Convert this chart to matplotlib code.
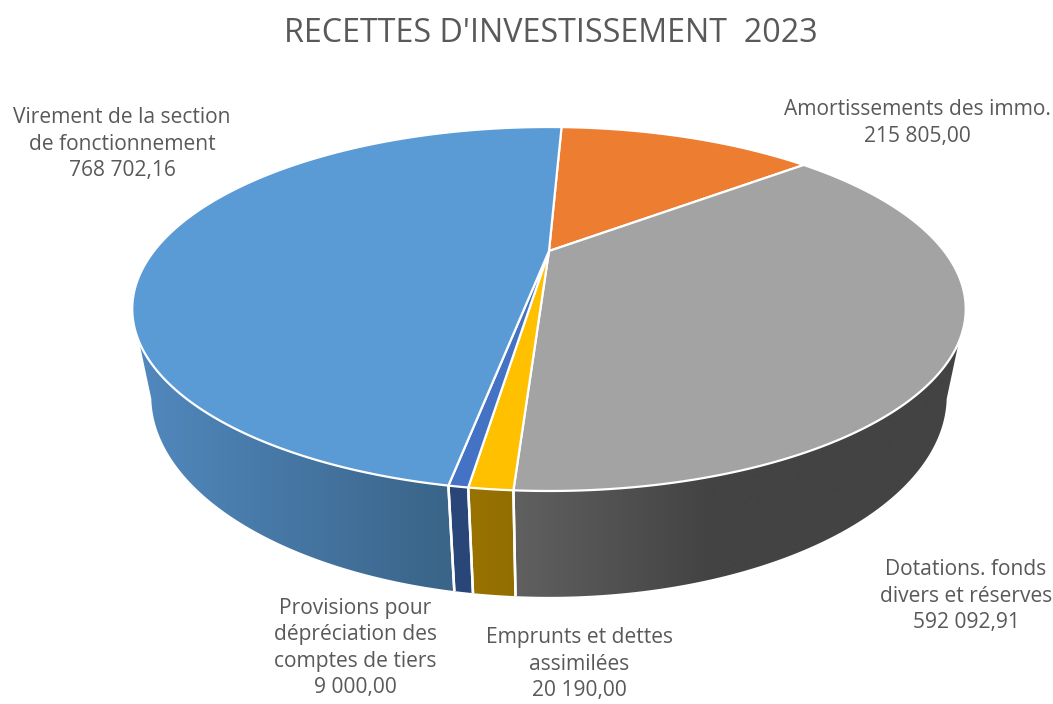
import numpy as np
import matplotlib
matplotlib.use("Agg")
import matplotlib.pyplot as plt
from matplotlib.patches import Polygon
from matplotlib.colors import to_rgb

# ---- data ----
title = "RECETTES D'INVESTISSEMENT  2023"
names = ["Amortissements des immo.", "Dotations. fonds\ndivers et réserves",
         "Emprunts et dettes\nassimilées",
         "Provisions pour\ndépréciation des\ncomptes de tiers",
         "Virement de la section\nde fonctionnement"]
values = [215805.00, 592092.91, 20190.00, 9000.00, 768702.16]
value_labels = ["215 805,00", "592 092,91", "20 190,00", "9 000,00", "768 702,16"]

# ---- styles ----
top_colors = ["#ED7D31", "#A3A3A3", "#FFC000", "#4472C4", "#5B9BD5"]
# side gradient: (x at left, colour, x at right, colour)
side_grad = [(0, "#B0581F", 1, "#B0581F"),
             (515, "#606060", 710, "#434343"),
             (470, "#997300", 515, "#926E00"),
             (450, "#2A4679", 472, "#2A4679"),
             (150, "#5087BC", 450, "#3A6488")]
label_pos = [(917, 123), (966, 596), (579, 664), (355, 648), (122, 144)]
CX, CY, A, B, P = 549.0, 251.0, 395.0, 163.5, -0.3187
H, Q = 87.0, 0.043
START = 2.4
SIL_L, SIL_R = 108.6, 251.4   # widest points of the disc: tangent of the side walls
TEXT = "#595959"
FONT = "Open Sans"


def project(theta, z=0.0):
    u, v = np.sin(np.radians(theta)), -np.cos(np.radians(theta))
    d = 1 + P * v + Q * z
    return CX + A * u / d, CY + (B * v + H * z) / d


fig = plt.figure(figsize=(10.53, 7.04), dpi=100)
ax = fig.add_axes([0, 0, 1, 1])

sweeps = 360 * np.array(values) / np.sum(values)
ends = START + np.cumsum(sweeps)
starts = ends - sweeps
xs = np.arange(0, 1054)

# side walls as gradient images clipped to the wall outline
for s, e, (xl, cl, xr, cr) in zip(starts, ends, side_grad):
    a0, a1 = max(s, SIL_L), min(e, SIL_R)
    if a1 <= a0:
        continue
    th = np.linspace(a0, a1, 200)
    xt, yt = project(th)
    xb, yb = project(th, 1.0)
    outline = np.r_[np.c_[xt, yt], np.c_[xb, yb][::-1]]
    f = np.clip((xs - xl) / (xr - xl), 0, 1)[None, :, None]
    grad = np.array(to_rgb(cl))[None, None, :] * (1 - f) + np.array(to_rgb(cr))[None, None, :] * f
    im = ax.imshow(grad, extent=(0, 1053, 704, 0), aspect="auto", interpolation="bilinear", zorder=2)
    clip = Polygon(outline, closed=True, transform=ax.transData, facecolor="none", edgecolor="none")
    ax.add_patch(clip)
    im.set_clip_path(clip)
    for a in (a0, a1):
        if SIL_L < a < SIL_R:
            x0, y0 = project(a)
            x1, y1 = project(a, 1.0)
            ax.plot([x0, x1], [y0, y1], color="white", lw=1.8, zorder=3, solid_capstyle="butt")

# top faces
for s, e, c in zip(starts, ends, top_colors):
    th = np.linspace(s, e, max(int(e - s) * 2, 4))
    x, y = project(th)
    ax.add_patch(Polygon(np.r_[[(CX, CY)], np.c_[x, y]], closed=True, facecolor=c,
                         edgecolor="white", linewidth=1.6, joinstyle="round", zorder=4))

# text
ax.text(551, 33, title, ha="center", va="center", fontsize=23.2, color=TEXT, family=FONT)
for name, val, (lx, ly) in zip(names, value_labels, label_pos):
    ax.text(lx, ly, name + "\n" + val, ha="center", va="center", fontsize=15.1,
            color=TEXT, family=FONT, linespacing=1.35, zorder=6)

ax.set_xlim(0, 1053)
ax.set_ylim(704, 0)
ax.axis("off")
fig.savefig("out.png", dpi=100, facecolor="white")
